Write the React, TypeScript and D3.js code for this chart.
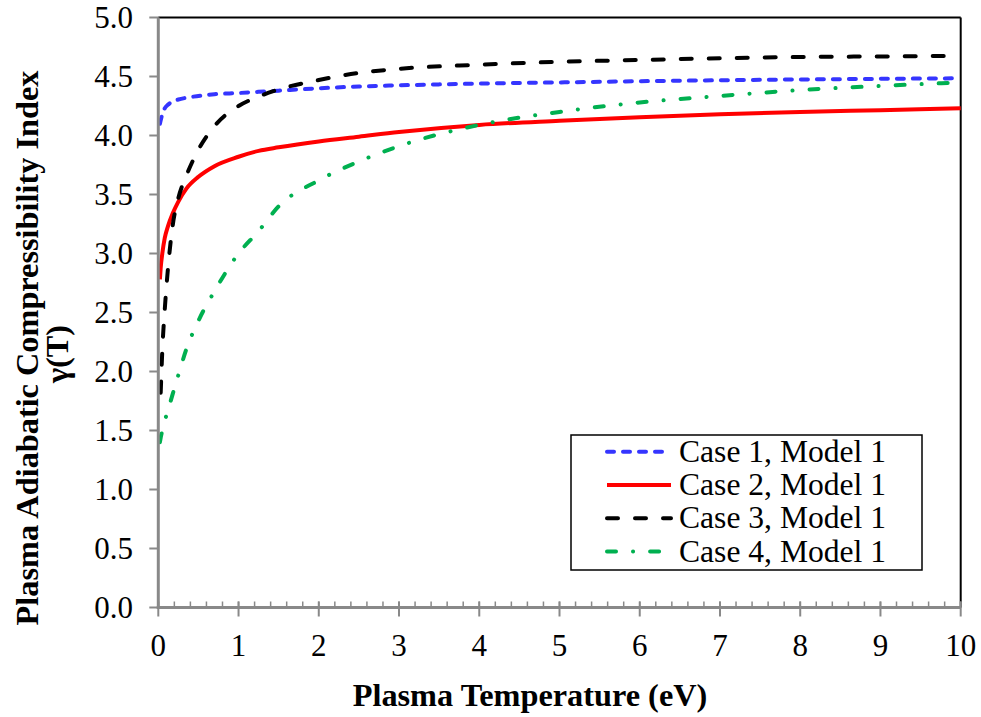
import React from 'react';
import * as d3 from 'd3';

const temps = [0.02, 0.03, 0.05, 0.08, 0.12, 0.18, 0.25, 0.35, 0.5, 0.7, 1, 1.25, 1.5, 2, 2.5, 3, 4, 5, 6, 7, 8, 9, 10];
const case1 = [4.10, 4.13, 4.18, 4.23, 4.26, 4.29, 4.305, 4.32, 4.335, 4.35, 4.36, 4.37, 4.38, 4.40, 4.415, 4.425, 4.44, 4.45, 4.46, 4.468, 4.475, 4.48, 4.485];
const case2 = [2.78, 2.88, 3.0, 3.13, 3.23, 3.34, 3.44, 3.55, 3.65, 3.74, 3.82, 3.87, 3.90, 3.95, 3.99, 4.03, 4.09, 4.125, 4.155, 4.18, 4.20, 4.215, 4.23];
const case3 = [null, 1.82, 2.18, 2.52, 2.87, 3.24, 3.47, 3.66, 3.88, 4.08, 4.25, 4.33, 4.39, 4.47, 4.53, 4.565, 4.60, 4.625, 4.64, 4.655, 4.665, 4.67, 4.675];
const case4 = [1.40, 1.44, 1.50, 1.58, 1.67, 1.81, 1.97, 2.19, 2.43, 2.68, 3.0, 3.19, 3.40, 3.62, 3.78, 3.91, 4.09, 4.20, 4.28, 4.335, 4.385, 4.42, 4.45];

const seriesNames = ['Case 1, Model 1', 'Case 2, Model 1', 'Case 3, Model 1', 'Case 4, Model 1'];
const seriesValues = [case1, case2, case3, case4];
const seriesColors = ['#3535ff', '#ff0000', '#000000', '#00b050'];
const seriesDash = ['7 9', 'none', '11 17', '9 17 0.1 17'];

const xTicks = [0, 1, 2, 3, 4, 5, 6, 7, 8, 9, 10];
const xMinor = d3.range(0, 10.001, 0.2);
const yTicks = [0, 0.5, 1, 1.5, 2, 2.5, 3, 3.5, 4, 4.5, 5];

const xTitle = 'Plasma Temperature (eV)';
const yTitle1 = 'Plasma Adiabatic Compressibility Index';
const yTitle2 = 'γ(T)';

const FONT = "'Liberation Serif', 'Times New Roman', serif";

export default function App() {
  const W = 981, H = 717;
  const left = 158.3, right = 960.7, top = 17.5, bottom = 607.5;
  const x = d3.scaleLinear().domain([0, 10]).range([left, right]);
  const y = d3.scaleLinear().domain([0, 5]).range([bottom, top]);

  const line = d3.line<[number, number | null]>()
    .defined(d => d[1] !== null)
    .x(d => x(d[0]))
    .y(d => y(d[1] as number))
    .curve(d3.curveMonotoneX);

  const axisGray = '#898989';
  const legX = 571, legY = 435, legW = 351, legH = 135;
  const rowPitch = 33.3;

  return (
    <svg width={W} height={H} style={{ position: 'absolute', left: 0, top: 0, background: '#fff' }} fontFamily={FONT}>
      <rect x={0} y={0} width={W} height={H} fill="#fff" />
      {/* frame top/right */}
      <line x1={left} x2={right} y1={top} y2={top} stroke="#000" strokeWidth={2} />
      <line x1={right} x2={right} y1={top} y2={bottom} stroke="#000" strokeWidth={2} />

      {/* series */}
      {seriesValues.map((vals, i) => (
        <path key={i}
          d={line(temps.map((t, j) => [t, vals[j]] as [number, number | null])) || ''}
          fill="none" stroke={seriesColors[i]} strokeWidth={4}
          strokeDasharray={seriesDash[i]} strokeLinecap={seriesDash[i] === 'none' ? 'butt' : 'round'}
          strokeLinejoin="round" />
      ))}

      {/* y axis */}
      <line x1={left} x2={left} y1={top} y2={bottom + 1.5} stroke={axisGray} strokeWidth={3} />
      {yTicks.map(t => (
        <g key={t}>
          <line x1={left - 9} x2={left} y1={y(t)} y2={y(t)} stroke={axisGray} strokeWidth={2} />
          <text x={133} y={y(t)} dy="0.35em" textAnchor="end" fontSize={31} fill="#000">{t.toFixed(1)}</text>
        </g>
      ))}

      {/* x axis */}
      <line x1={left - 1.5} x2={right} y1={bottom} y2={bottom} stroke={axisGray} strokeWidth={3} />
      {xMinor.map((t, i) => (
        <line key={'m' + i} x1={x(t)} x2={x(t)} y1={bottom - 6} y2={bottom} stroke={axisGray} strokeWidth={1.5} />
      ))}
      {xTicks.map(t => (
        <g key={t}>
          <line x1={x(t)} x2={x(t)} y1={bottom - 6} y2={bottom + 9} stroke={axisGray} strokeWidth={2} />
          <text x={x(t)} y={656} textAnchor="middle" fontSize={31} fill="#000">{t}</text>
        </g>
      ))}

      {/* titles */}
      <text x={530} y={706} textAnchor="middle" fontSize={32.3} fontWeight="bold" fill="#000">{xTitle}</text>
      <text transform={`translate(27,348) rotate(-90)`} textAnchor="middle" dy="0.35em" fontSize={32.3} fontWeight="bold" fill="#000">{yTitle1}</text>
      <text transform={`translate(57,354) rotate(-90)`} textAnchor="middle" dy="0.35em" fontSize={32.3} fontWeight="bold" fill="#000">{yTitle2}</text>

      {/* legend */}
      <rect x={legX} y={legY} width={legW} height={legH} fill="#fff" stroke="#000" strokeWidth={1.5} />
      {seriesNames.map((name, i) => {
        const base = 461.7 + i * rowPitch;
        const ly = base - 10;
        return (
          <g key={name}>
            <line x1={607} x2={671} y1={ly} y2={ly} stroke={seriesColors[i]} strokeWidth={4}
              strokeDasharray={seriesDash[i]} strokeLinecap={seriesDash[i] === 'none' ? 'butt' : 'round'} />
            <text x={679} y={base} fontSize={31.6} fill="#000">{name}</text>
          </g>
        );
      })}
    </svg>
  );
}
